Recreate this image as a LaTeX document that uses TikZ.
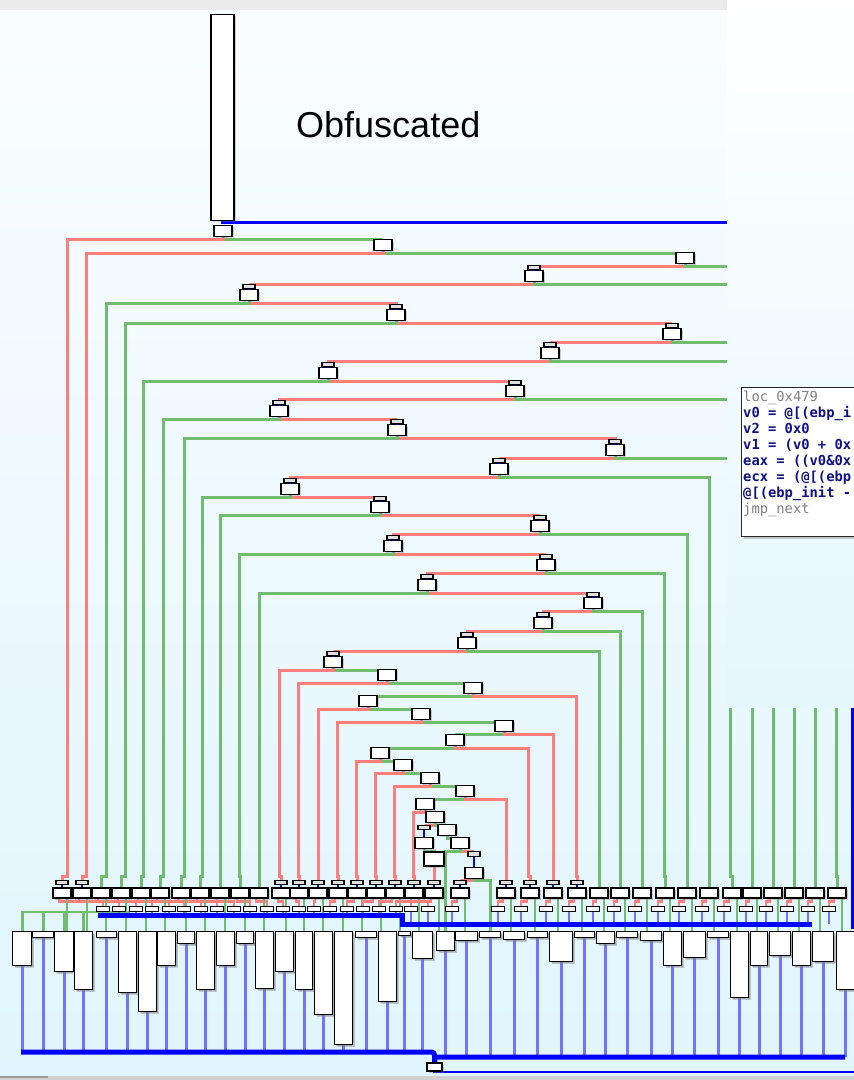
\documentclass[tikz,border=0pt]{standalone}
\usepackage{fontspec}
\setmainfont{Liberation Sans}
\newfontfamily\codefont{DejaVu Sans Mono}
\usetikzlibrary{shadows}
\definecolor{cfgred}{RGB}{255,125,125}
\definecolor{cfggreen}{RGB}{112,188,112}
\definecolor{cfgblue}{RGB}{0,0,255}
\definecolor{cfglblue}{RGB}{115,115,255}
\definecolor{codenavy}{RGB}{16,16,140}
\definecolor{codegray}{RGB}{130,130,130}
\definecolor{bgtop}{RGB}{250,253,254}
\definecolor{bgbot}{RGB}{224,245,253}
\definecolor{panelbot}{RGB}{228,247,253}
\definecolor{stripgray}{RGB}{235,235,235}
\pgfdeclarelayer{back}
\pgfdeclarelayer{edges}
\pgfsetlayers{back,edges,main}

\begin{document}
\begin{tikzpicture}[x=1pt,y=-1pt,
    bk/.style={draw,fill=white,line width=1.4pt,inner sep=0pt,minimum width=18pt,minimum height=11pt,
      drop shadow={shadow xshift=1.5pt,shadow yshift=-1.5pt,opacity=.35}},
    cp/.style={draw,fill=black!12,line width=1.1pt,inner sep=0pt,minimum width=12pt,minimum height=4.5pt},
    sm/.style={draw,fill=white,line width=1.1pt,inner sep=0pt,minimum width=13pt,minimum height=4.5pt},
    lnk/.style={cfgblue,line width=1.8pt},
    redge/.style={cfgred,line width=3pt},
    gedge/.style={cfggreen,line width=3pt},
    bedge/.style={cfglblue,line width=2.8pt},
    bbus/.style={cfgblue,line width=5pt},
    btop/.style={cfgblue,line width=3pt},
    code/.style={anchor=base west,inner sep=0pt,font=\codefont\fontsize{13.8}{16}\selectfont}]
  \useasboundingbox (0,0) rectangle (854,1080);
  \begin{pgfonlayer}{back}
    \fill[top color=bgtop,bottom color=bgbot] (0,0) rectangle (854,1080);
    \fill[stripgray] (0,0) rectangle (727,9.5);
    \fill[black!18] (0,1076) rectangle (854,1080);
    \fill[black!40] (0,1076) rectangle (48,1078);
  \end{pgfonlayer}

  % dispatcher block and label
  \node[bk,minimum width=23pt,minimum height=206pt,anchor=north] (blk) at (222.5,14) {};
  \node[anchor=base west,inner sep=0pt,font=\fontsize{36}{40}\selectfont] (lbl) at (296,137) {Obfuscated};
  \coordinate (dsp) at (852,929);

  % decision chain
  \foreach \n/\x/\h/\c in {A/223/238/0,B/383/252/0,C/685/265/0,D/534/283/8.5,E/249/302/8.5,
      F/396/322/8.5,G/672/341/8.5,H/550/360/8.5,I/328/380/8.5,J/515/398/8.5,K/279/418/8.5,
      L/397/437/8.5,M/615/457/8.5,N/499/476/8.5,O/290/496/8.5,P/380/514/8.5,Q/540/533/8.5,
      R/393/553/8.5,S/546/572/8.5,T/427/592/8.5,U/593/610/8.5,V/543/630/8.5,W/467/650/8.5,
      X/333/669/8.5,Y/387/682/0,Z/473/695/0,AA/368/708/0,AB/421/721/0,AC/504/733/0,
      AD/455/747/0,AE/380/760/0,AF/403/772/0,AG/430/785/0,AH/465/798/0,AI/425/811/0,
      AJ/435/824/0,AK/424/850/15.5,AL/447/837/0,AM/460/850/0,AO/474/880/19}{
    \node[bk] (\n) at (\x,\h-7) {};
    \ifdim\c pt>0pt
      \node[cp] (c\n) at (\x,\h-7-\c) {};
      \draw[lnk] (c\n) -- (\n);
    \fi
  }
  \node[bk,minimum width=20pt,minimum height=14pt] (AN) at (434,859) {};

  % handler rows
  \foreach \x in {103,119,136,152,169,184,201,217,234,250,267,283,299,314,330,347,363,379,396,411,
      428,452,498,521,546,569,593,614,635,658,679,702,724,746,766,787,808,829}
    \node[sm] (s\x) at (\x,909) {};
  \foreach \x/\c in {62/1,82/1,101/0,121/0,141/0,160/0,181/0,200/0,220/0,240/0,259/0,281/1,299/1,
      318/1,338/1,357/1,376/1,395/1,414/1,434/1,460/1,506/1,530/1,553/1,577/1,599/0,620/0,642/0,
      665/0,687/0,709/0,732/0,752/0,773/0,794/0,815/0,837/0}{
    \node[bk,minimum height=10pt] (r\x) at (\x,893) {};
    \ifnum\c=1
      \node[cp] (q\x) at (\x,882.5) {};
      \draw[lnk] (q\x) -- (r\x);
    \fi
  }
  \foreach \i/\l/\r/\b in {1/12/31/965,2/32/53/937,3/54/73/971,4/74/92/989,5/96/116/937,
      6/118/136/992,7/138/156/1011,8/157/175/965,9/177/194/943,10/196/214/989,11/216/234/965,
      12/236/253/943,13/255/273/988,14/275/293/971,15/295/312/989,16/314/332/1014,17/334/352/1044,
      18/355/376/937,19/378/396/1001,20/398/410/935,21/412/432/958,22/436/454/950,23/455/477/940,
      24/479/500/937,25/503/524/939,26/527/547/937,27/549/572/961,28/574/594/937,29/596/614/943,
      30/616/637/937,31/640/661/940,32/663/681/965,33/683/705/957,34/707/728/937,35/730/748/997,
      36/750/767/965,37/769/790/955,38/792/810/965,39/812/833/961,40/836/854/989}
    \node[bk,anchor=north west,minimum width={(\r-\l)*1pt},minimum height={(\b-931)*1pt},
      drop shadow={shadow xshift=2pt,shadow yshift=-2pt,opacity=.4}] (z\i) at (\l,931) {};
  \node[bk,minimum width=15pt,minimum height=8pt] (fin) at (434.5,1067) {};

  \coordinate (lgb) at (130,912);
  \coordinate (bl) at (0,915);
  \coordinate (br) at (0,924);
  \coordinate (busA) at (98,915);
  \coordinate (busB) at (402,915);
  \coordinate (busC) at (812,924);
  \coordinate (bbl) at (0,1052);
  \coordinate (bbr) at (0,1057);
  \coordinate (busL) at (21,1052);
  \coordinate (busR) at (845,1057);
  \coordinate (exitR) at (856,1072);

  \begin{pgfonlayer}{edges}
    \draw[btop] (blk.south) -- ++(0,1.5) -| (dsp);
    \foreach \s/\st/\t in {A/gedge/B,B/gedge/C,C/redge/cD,D/redge/cE,E/redge/cF,F/redge/cG,
        G/redge/cH,H/redge/cI,I/redge/cJ,J/redge/cK,K/redge/cL,L/redge/cM,M/redge/cN,N/redge/cO,
        O/redge/cP,P/redge/cQ,Q/redge/cR,R/redge/cS,S/redge/cT,T/redge/cU,U/redge/cV,V/redge/cW,
        W/redge/cX,X/gedge/Y,Y/gedge/Z,Z/gedge/AA,AA/gedge/AB,AB/gedge/AC,AC/gedge/AD,AD/gedge/AE,
        AE/gedge/AF,AF/gedge/AG,AG/gedge/AH,AH/gedge/AI,AI/gedge/AJ,AJ/redge/cAK,AJ/gedge/AL,
        AK/gedge/AN,AL/gedge/AM,AM/redge/cAO}
      \draw[\st] (\s.south) -- ++(0,2) -| (\t.north);
    \foreach \s/\st/\cl/\t in {A/redge/67/q62,B/redge/86/q82,E/gedge/106/r101,F/gedge/125/r121,
        I/gedge/143/r141,K/gedge/163/r160,L/gedge/184/r181,O/gedge/202/r200,P/gedge/220/r220,
        R/gedge/239/r240,T/gedge/259/r259,X/redge/279/q281,Y/redge/298/q299,AA/redge/318/q318,
        AB/redge/337/q338,AE/redge/356/q357,AF/redge/375/q376,AG/redge/394/q395,AI/redge/413/q414,
        AN/redge/434/q434,AH/redge/506/q506,AD/redge/528/q530,AC/redge/553/q553,Z/redge/576/q577,
        W/gedge/599/r599,V/gedge/620/r620,U/gedge/642/r642,S/gedge/664/r665,Q/gedge/687/r687,
        N/gedge/709/r709,M/gedge/730/r732,J/gedge/752/r752,H/gedge/773/r773,G/gedge/794/r794,
        D/gedge/815/r815,C/gedge/836/r837,AM/gedge/445/z22}
      \draw[\st] (\s.south) -- ++(0,2) -| (\cl,876) -| (\t.north);
    \draw[redge] (AO.south) -- ++(0,1) -| (q460.north);
    \draw[gedge] (AO.south) -- ++(0,1) -| (z24.north);
    % row 1 to row 2 and row 3
    \foreach \x/\p in {62/103,82/119,101/136,121/152,141/169,160/184,181/201,200/217,220/234,
        240/250,259/267,281/283,299/299,318/314,338/330,357/347,376/363,395/379,414/396,434/411,
        460/452,506/498,530/521,553/546,577/569,599/593,620/614,642/635,665/658,687/679,709/702,
        732/724,752/746,773/766,794/787,815/808,837/829}{
      \draw[redge,line width=2.6pt] ([xshift=-3pt]r\x.south) -- ++(0,3) -| (s\p.north);
      \draw[gedge,line width=2.6pt] ([xshift=5pt]r\x.south) -- ++(0,33);
    }
    \draw[redge,line width=2.6pt] ([xshift=-3pt]r434.south) -- ++(0,3) -| (s428.north);
    \foreach \i in {1,...,4}
      \draw[gedge,line width=2.6pt] (lgb) -| (z\i.north);
    % blue collectors
    \foreach \x in {103,119,136,152,169,184,201,217,234,250,267,283,299,314,330,347,363,379,396,
        411,428,452,498,521,546,569,593,614,635,658,679,702,724,746,766,787,808,829}{
      \ifnum\x<402
        \draw[bedge,line width=2.2pt] (s\x.south) -- (s\x.south |- bl);
      \else
        \draw[bedge,line width=2.2pt] (s\x.south) -- (s\x.south |- br);
      \fi
    }
    \draw[bbus] (busA) -- (busB) |- (busC);
    \foreach \i in {1,...,40}{
      \ifnum\i<22
        \draw[bedge] (z\i.south) -- (z\i.south |- bbl);
      \else
        \draw[bedge] (z\i.south) -- (z\i.south |- bbr);
      \fi
    }
    \draw[bbus,rounded corners=3pt] (busL) -| (fin.north);
    \draw[bbus,rounded corners=3pt] (busR) -| (fin.north);
    \draw[btop,line width=2.2pt] (fin.south) |- (exitR);
  \end{pgfonlayer}

  % overlay with the block listing
  \fill[top color=white,bottom color=panelbot] (727,0) rectangle (854,707);
  \node[draw=black!85,fill=white,line width=1pt,minimum width=125pt,minimum height=149pt,
    anchor=north west,inner sep=0pt,drop shadow={shadow xshift=2pt,shadow yshift=-2pt,opacity=.4}] (cbox) at (741,387) {};
  \node[code,text=codegray] (l1) at (743,401) {loc\_0x479};
  \node[code,text=codenavy,font=\codefont\bfseries\fontsize{13.8}{16}\selectfont] (l2) at (743,417) {v0 = @[(ebp\_i};
  \node[code,text=codenavy,font=\codefont\bfseries\fontsize{13.8}{16}\selectfont] (l3) at (743,433) {v2 = 0x0};
  \node[code,text=codenavy,font=\codefont\bfseries\fontsize{13.8}{16}\selectfont] (l4) at (743,449) {v1 = (v0 + 0x};
  \node[code,text=codenavy,font=\codefont\bfseries\fontsize{13.8}{16}\selectfont] (l5) at (743,465) {eax = ((v0\&0x};
  \node[code,text=codenavy,font=\codefont\bfseries\fontsize{13.8}{16}\selectfont] (l6) at (743,481) {ecx = (@[(ebp};
  \node[code,text=codenavy,font=\codefont\bfseries\fontsize{13.8}{16}\selectfont] (l7) at (743,497) {@[(ebp\_init -};
  \node[code,text=codegray] (l8) at (743,513) {jmp\_next};
\end{tikzpicture}
\end{document}
